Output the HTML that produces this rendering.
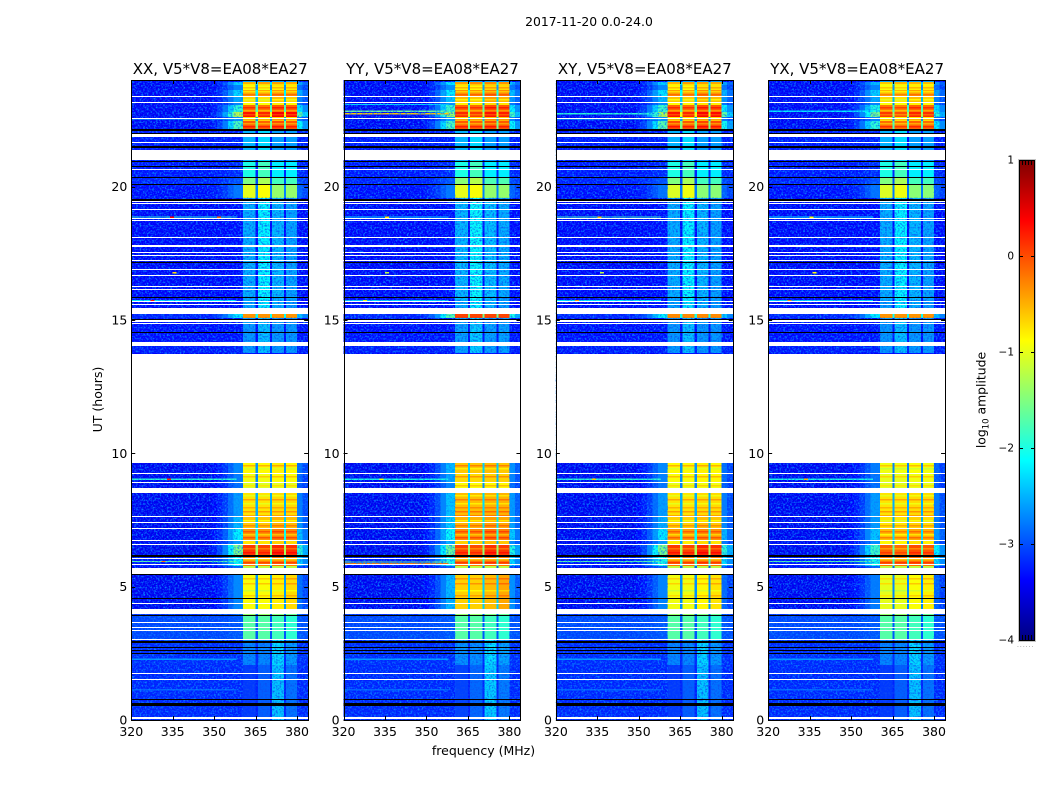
<!DOCTYPE html>
<html>
<head>
<meta charset="utf-8">
<title>2017-11-20 0.0-24.0</title>
<style>
html,body{margin:0;padding:0;background:#fff;}
svg{display:block;}
text{font-family:"DejaVu Sans","Liberation Sans",sans-serif;fill:#000;}
</style>
</head>
<body>
<svg id="figure" width="1050" height="800" viewBox="0 0 1050 800" xmlns="http://www.w3.org/2000/svg">
  <defs>
    <filter id="speckle" x="0" y="0" width="100%" height="100%" color-interpolation-filters="sRGB">
      <feTurbulence type="fractalNoise" baseFrequency="0.55" numOctaves="2" seed="7"/>
      <feColorMatrix type="matrix" values="0 0 0 0 0.03  0 0 0 0 0.5  0 0 0 0 1  3 0 0 0 -1.35"/>
    </filter>
    <filter id="speckle-band" x="0" y="0" width="100%" height="100%" color-interpolation-filters="sRGB">
      <feTurbulence type="fractalNoise" baseFrequency="0.55" numOctaves="2" seed="11"/>
      <feColorMatrix type="matrix" values="0 0 0 0 0.05  0 0 0 0 0.3  0 0 0 0 0.95  2.4 0 0 0 -1.05"/>
    </filter>
    <linearGradient id="colorbar-gradient" x1="0" y1="1" x2="0" y2="0"></linearGradient>
  </defs>
  <rect x="0" y="0" width="1050" height="800" fill="#fff"/>
  <text x="589" y="26" font-size="12.4" text-anchor="middle">2017-11-20 0.0-24.0</text>
  <text x="483.5" y="755" font-size="12.5" text-anchor="middle">frequency (MHz)</text>
  <text x="102" y="399.5" font-size="12.5" text-anchor="middle" transform="rotate(-90 102 399.5)">UT (hours)</text>
  <text x="985.5" y="400" font-size="12.4" text-anchor="middle" transform="rotate(-90 985.5 400)">log<tspan font-size="8.5" dy="3">10</tspan><tspan dy="-3"> amplitude</tspan></text>
  <g id="panels"></g>
  <g id="colorbar"></g>
</svg>
<script>
// ---------- data (log10 amplitude) ----------
const panelTitles = ["XX, V5*V8=EA08*EA27", "YY, V5*V8=EA08*EA27", "XY, V5*V8=EA08*EA27", "YX, V5*V8=EA08*EA27"];
const xTickLabels = [320, 335, 350, 365, 380];
const yTickLabels = [0, 5, 10, 15, 20];
const colorbarTicks = [1, 0, -1, -2, -3, -4];

// frequency channel edges (MHz) and response of each channel group
const freqEdges = [320, 349, 351, 353, 355, 357, 360.4, 365, 365.8, 370.2, 371, 375.3, 376, 380, 382, 384];
const columnWeight = [0, 0.04, 0.1, 0.2, 0.35, 0.5, 1, 0.55, 1, 0.55, 1, 0.55, 1, 0.4, 0.25];
const columnSubBand = [-1, -1, -1, -1, -1, -1, 0, -1, 1, -1, 2, -1, 3, -1, -1];

// UT segments: upper edge (hours); each segment ends at the next edge
const segmentTops = [24, 23.93, 23.81, 23.63, 23.40, 23.18, 23.06, 22.80, 22.61, 22.46, 22.16, 21.41, 20.96, 20.33, 20.06, 19.58, 18.90, 15.75, 15.23, 15.08, 14.06, 13.76, 9.64, 9.26, 8.93, 8.55, 7.65, 7.20, 6.75, 6.56, 6.19, 5.78, 5.48, 4.13, 3.90, 3.00, 2.06];
const segmentEnd = 0;

// in-band level per segment, one array per polarisation
const levelsXX = [-2.6, -0.5, -0.9, -0.45, -0.7, -0.9, -0.15, 0.3, -0.8, -0.05, -2.5, -2.5, -2.0, -1.5, -1.0, -2.4, -2.4, -2.45, -0.35, -2.6, -2.6, -3.3, -0.85, -0.95, -1.05, -0.75, -0.6, -0.35, -0.75, 0.1, -0.25, -1.2, -0.85, -1.5, -1.8, -2.6, -2.9];
const levelsYY = [-2.6, -0.4, -0.8, -0.35, -0.55, -0.8, -0.1, 0.2, -0.7, -0.05, -2.5, -2.5, -2.0, -1.45, -1.0, -2.35, -2.35, -2.4, 0.05, -2.55, -2.55, -3.3, -0.6, -0.7, -0.9, -0.55, -0.5, -0.3, -0.65, 0.05, -0.2, -1.2, -0.6, -1.5, -1.8, -2.55, -2.85];
const levelsXY = [-2.6, -0.5, -0.85, -0.4, -0.6, -0.85, -0.1, 0.3, -0.8, 0, -2.5, -2.5, -2.0, -1.5, -1.05, -2.4, -2.4, -2.45, -0.3, -2.6, -2.6, -3.3, -0.85, -0.9, -1.0, -0.75, -0.65, -0.4, -0.8, 0.1, -0.2, -1.2, -0.9, -1.5, -1.8, -2.6, -2.9];
const levelsYX = [-2.6, -0.6, -0.9, -0.5, -0.7, -0.9, -0.2, 0.1, -0.9, -0.15, -2.5, -2.5, -2.0, -1.5, -1.05, -2.4, -2.4, -2.45, -0.35, -2.6, -2.6, -3.3, -0.95, -1.0, -1.05, -0.75, -0.75, -0.55, -0.85, -0.1, -0.2, -1.2, -0.95, -1.5, -1.8, -2.6, -2.9];

// off-band level per segment (shared)
const offBandLevels = [-3.4, -3.42, -3.42, -3.42, -3.42, -3.42, -3.42, -3.42, -3.42, -3.42, -3.3, -3.3, -3.3, -3.25, -3.35, -3.4, -3.4, -3.4, -3.25, -3.35, -3.3, -3.4, -3.45, -3.45, -3.45, -3.45, -3.45, -3.45, -3.45, -3.45, -3.3, -3.4, -3.45, -3.15, -3.05, -3.2, -3.22];

// per-segment sub-band offsets (first to fourth sub-band)
const tiltSub1 = [0, 0, 0, 0, 0, 0, 0, 0, 0, 0, 0, 0, 0, 0, 0, -0.1, -0.1, -0.1, 0, 0, 0, 0, 0, 0, 0, 0, 0, 0, 0, 0, 0, 0, -0.05, 0.1, 0.1, -0.1, -0.2];
const tiltSub2 = [0, 0.1, -0.05, 0, -0.05, 0, -0.05, -0.1, 0, -0.05, 0.2, 0.2, 0.2, 0.2, 0.1, 0.25, 0.25, 0.25, 0, 0.2, 0.2, 0, 0, 0, 0, 0, 0, 0, 0, -0.05, 0, 0, -0.05, 0.1, 0.1, -0.1, 0];
const tiltSub3 = [0, 0.1, 0.1, 0.1, 0.15, 0.1, 0.1, 0.1, 0.1, 0.05, -0.1, -0.1, -0.2, -0.3, -0.4, -0.05, -0.05, -0.05, 0, 0, 0, 0, 0.05, 0.05, 0.05, 0.05, 0.1, 0.1, 0.1, 0.1, 0.05, 0, 0.05, 0, 0, 0.3, 0.5];
const tiltSub4 = [0, 0.05, 0.1, 0.05, 0.05, 0.05, 0.05, 0.05, 0.05, 0, -0.1, -0.1, -0.2, -0.3, -0.4, -0.15, -0.15, -0.15, 0, 0, 0, 0, 0, 0.05, 0.05, 0.05, 0.05, 0.05, 0.05, 0.05, 0, 0, 0.15, -0.1, -0.1, 0, 0.1];

// thin in-band bright/dim stripes: [hour, level change]
const bandStripes = [[23.85, -0.3], [23.74, 0.3], [23.59, -0.3], [23.48, 0.25], [23.29, -0.3], [22.99, 0.3], [22.88, -0.3], [22.73, -0.3], [22.54, 0.3], [22.39, -0.35], [22.28, 0.3], [9.56, 0.35], [9.45, -0.2], [9.15, 0.35], [8.81, 0.3], [8.44, -0.25], [8.29, 0.3], [8.14, -0.25], [7.99, 0.25], [7.84, 0.35], [7.69, 0.3], [7.5, -0.3], [7.31, 0.3], [7.09, 0.3], [6.98, -0.3], [6.86, 0.3], [6.45, -0.3], [6.30, 0.2], [6.04, -0.4], [5.93, 0.3], [5.33, 0.3], [5.14, 0.3], [4.88, -0.2], [4.69, 0.25]];

// narrowband interference lines across the off-band range: [hour, level]
const rfiLinesXX = [[22.56, -2.4], [18.88, -1.9], [15.75, -2.2], [9.05, -1.9], [5.97, -1.7], [2.3, -2.6], [1.16, -2.9]];
const rfiLinesYY = [[23.1, -2.3], [22.85, -1.6], [22.76, -0.6], [22.15, -0.3], [18.88, -2.3], [15.75, -2.3], [9.05, -2.0], [5.95, -1.5], [5.88, -0.2], [2.3, -2.6], [1.16, -2.9]];
const rfiLinesXY = [[22.76, -1.9], [22.56, -2.3], [18.88, -1.8], [15.75, -2.2], [9.05, -1.9], [5.97, -1.7], [2.3, -2.6], [1.16, -2.9]];
const rfiLinesYX = [[22.85, -2.2], [18.88, -2.2], [15.75, -2.3], [9.05, -2.0], [5.97, -1.7], [2.3, -2.6], [1.16, -2.9]];

// isolated hot pixels: [hour, frequency MHz, level]
const hotSpotsXX = [[18.88, 334, 0.4], [18.88, 351, -0.1], [16.8, 335, -0.7], [15.75, 327, 0.3], [9.05, 333, 0.2], [5.97, 331, -0.2]];
const hotSpotsYY = [[18.88, 335, -0.8], [16.8, 335, -1.2], [15.75, 327, -1.0], [9.05, 333, -0.9]];
const hotSpotsXY = [[18.88, 335, -0.6], [16.8, 336, -1.2], [15.75, 327, -0.4], [9.05, 333, -0.6]];
const hotSpotsYX = [[18.88, 335, -0.9], [16.8, 336, -0.9], [15.75, 327, -0.3], [9.05, 333, -0.5]];

// flagged rows: [upper hour, lower hour]
const whiteRows = [[23.40,23.36],[23.16,23.13],[22.58,22.54],[21.99,21.86],[21.68,21.64],[21.39,21.00],[20.66,20.63],[19.46,19.43],[19.39,19.35],[19.17,19.14],[18.83,18.79],[18.74,18.70],[18.11,18.08],[17.81,17.74],[17.54,17.50],[17.45,17.41],[17.24,17.20],[16.92,16.89],[16.70,16.66],[16.29,16.25],[16.17,16.14],[15.70,15.66],[15.61,15.57],[15.45,15.23],[15.00,14.93],[14.90,14.86],[14.19,14.04],[13.74,9.64],[9.26,9.23],[8.93,8.89],[8.69,8.52],[7.64,7.60],[7.43,7.39],[7.19,7.15],[6.74,6.70],[6.60,6.56],[6.09,6.06],[5.85,5.81],[5.71,5.46],[4.39,4.35],[4.16,3.98],[3.68,3.64],[3.48,3.44],[3.39,3.35],[3.04,3.00],[1.76,1.73],[1.54,1.50],[0.11,0.08],[0.06,0.02]];
const blackRows = [[22.16,22.09],[22.03,21.99],[21.53,21.47],[20.98,20.93],[20.78,20.74],[20.36,20.33],[20.10,20.06],[19.54,19.46],[17.17,17.12],[15.86,15.83],[15.05,15.00],[14.55,14.51],[6.19,6.13],[5.46,5.42],[4.58,4.54],[3.92,3.88],[2.96,2.87],[2.73,2.69],[2.64,2.61],[2.52,2.48],[0.79,0.75],[0.64,0.53]];

// UT ranges where the band itself is faint enough to show receiver noise
const noisyBandHours = [[19.58, 15.23], [15.08, 13.76], [3.0, 0]];

const panelLevels = [levelsXX, levelsYY, levelsXY, levelsYX];
const panelRfi = [rfiLinesXX, rfiLinesYY, rfiLinesXY, rfiLinesYX];
const panelHot = [hotSpotsXX, hotSpotsYY, hotSpotsXY, hotSpotsYX];
const panelKeys = ["xx", "yy", "xy", "yx"];
const subBandTilts = [tiltSub1, tiltSub2, tiltSub3, tiltSub4];

// ---------- scales ----------
const SVGNS = "http://www.w3.org/2000/svg";
const AX_W = 176.9, AX_GAP = 35.4, AX_LEFT = 131.25, AX_TOP = 80, AX_BOTTOM = 720;
const CB_X = 1019, CB_W = 15, CB_TOP = 160, CB_BOTTOM = 640;
const xMin = 320, xMax = 384, yMin = 0, yMax = 24, cMin = -4, cMax = 1;

function panelLeft(i) { return AX_LEFT + i * (AX_W + AX_GAP); }
function xScale(i, f) { return panelLeft(i) + (f - xMin) / (xMax - xMin) * AX_W; }
function yScale(h) { return AX_BOTTOM - (h - yMin) / (yMax - yMin) * (AX_BOTTOM - AX_TOP); }
function cScale(v) { return CB_BOTTOM - (v - cMin) / (cMax - cMin) * (CB_BOTTOM - CB_TOP); }

function jet(t) {
  t = Math.max(0, Math.min(1, t));
  const r = Math.max(0, Math.min(1, 1.5 - Math.abs(4 * t - 3)));
  const g = Math.max(0, Math.min(1, 1.5 - Math.abs(4 * t - 2)));
  const b = Math.max(0, Math.min(1, 1.5 - Math.abs(4 * t - 1)));
  return "rgb(" + Math.round(r * 255) + "," + Math.round(g * 255) + "," + Math.round(b * 255) + ")";
}
function levelColor(v) { return jet((v - cMin) / (cMax - cMin)); }

function make(tag, parent) {
  const node = document.createElementNS(SVGNS, tag);
  parent.appendChild(node);
  return node;
}
function setRect(node, x, y, w, h, fill) {
  node.setAttribute("x", x.toFixed(2));
  node.setAttribute("y", y.toFixed(2));
  node.setAttribute("width", w.toFixed(2));
  node.setAttribute("height", h.toFixed(2));
  node.setAttribute("fill", fill);
  node.setAttribute("shape-rendering", "crispEdges");
}
function setRowRect(node, i, upper, lower, fill) {
  const y0 = Math.round(yScale(upper));
  const h = Math.max(1, Math.round(yScale(lower) - yScale(upper)));
  setRect(node, panelLeft(i), y0, AX_W, h, fill);
}
function setLine(node, x1, y1, x2, y2) {
  node.setAttribute("x1", x1);
  node.setAttribute("y1", y1);
  node.setAttribute("x2", x2);
  node.setAttribute("y2", y2);
  node.setAttribute("stroke", "#000");
  node.setAttribute("stroke-width", "1");
}
function setNoise(node, x0, x1, y0, y1, filterId) {
  node.setAttribute("x", x0.toFixed(2));
  node.setAttribute("y", y0.toFixed(2));
  node.setAttribute("width", (x1 - x0).toFixed(2));
  node.setAttribute("height", (y1 - y0).toFixed(2));
  node.setAttribute("filter", "url(#" + filterId + ")");
}

function cellValue(levels, s, c) {
  const off = offBandLevels[s];
  const w = columnWeight[c];
  const sb = columnSubBand[c];
  if (w === 0) return off;
  if (sb >= 0) return levels[s] + subBandTilts[sb][s];
  const gain = Math.max(0, levels[s] - off);
  return off + w * gain * gain * gain / 11.6;
}
function segmentAt(hour) {
  for (let s = segmentTops.length - 1; s >= 0; s--) {
    if (hour <= segmentTops[s] && (s === segmentTops.length - 1 ? hour >= segmentEnd : hour > segmentTops[s + 1])) return s;
  }
  return 0;
}

// ---------- panels ----------
const panelsGroup = document.getElementById("panels");
panelTitles.forEach(function (title, i) {
  const g = make("g", panelsGroup);
  
  

  segmentTops.forEach(function (top, s) {
    const bottom = s + 1 < segmentTops.length ? segmentTops[s + 1] : segmentEnd;
    for (let c = 0; c < columnWeight.length; c++) {
      const cell = make("rect", g);
      
      
      const x0 = xScale(i, freqEdges[c]);
      const x1 = xScale(i, freqEdges[c + 1]);
      setRect(cell, x0, yScale(top), x1 - x0, yScale(bottom) - yScale(top), levelColor(cellValue(panelLevels[i], s, c)));
    }
  });

  bandStripes.forEach(function (stripe) {
    const s = segmentAt(stripe[0]);
    for (let c = 0; c < columnWeight.length; c++) {
      if (columnSubBand[c] < 0) continue;
      const mark = make("rect", g);
      
      
      const x0 = xScale(i, freqEdges[c]);
      const x1 = xScale(i, freqEdges[c + 1]);
      setRect(mark, x0, yScale(stripe[0]), x1 - x0, 1.6, levelColor(cellValue(panelLevels[i], s, c) + stripe[1]));
    }
  });

  panelRfi[i].forEach(function (line) {
    const rfi = make("rect", g);
    
    
    setRect(rfi, xScale(i, xMin), yScale(line[0]), xScale(i, 358) - xScale(i, xMin), 1.2, levelColor(line[1]));
  });

  const noiseLeft = make("rect", g);
  
  
  setNoise(noiseLeft, xScale(i, xMin), xScale(i, 360.4), AX_TOP, AX_BOTTOM, "speckle");

  const noiseRight = make("rect", g);
  
  
  setNoise(noiseRight, xScale(i, 380), xScale(i, xMax), AX_TOP, AX_BOTTOM, "speckle");

  noisyBandHours.forEach(function (range) {
    const noiseBand = make("rect", g);
    
    
    setNoise(noiseBand, xScale(i, 360.4), xScale(i, 380), yScale(range[0]), yScale(range[1]), "speckle-band");
  });

  panelHot[i].forEach(function (spot) {
    const hot = make("rect", g);
    
    
    setRect(hot, xScale(i, spot[1]), yScale(spot[0]), 4, 1.4, levelColor(spot[2]));
  });

  whiteRows.forEach(function (row) {
    const gap = make("rect", g);
    
    
    setRowRect(gap, i, row[0], row[1], "#fff");
  });
  blackRows.forEach(function (row) {
    const gap = make("rect", g);
    
    
    setRowRect(gap, i, row[0], row[1], "#000");
  });

  const frameLeft = Math.round(panelLeft(i));
  const frameRight = Math.round(panelLeft(i) + AX_W);
  const frame = make("rect", g);
  
  
  frame.setAttribute("x", frameLeft + 0.5);
  frame.setAttribute("y", AX_TOP + 0.5);
  frame.setAttribute("width", frameRight - frameLeft);
  frame.setAttribute("height", AX_BOTTOM - AX_TOP);
  frame.setAttribute("fill", "none");
  frame.setAttribute("stroke", "#000");
  frame.setAttribute("stroke-width", "1");

  const titleNode = make("text", g);
  
  
  titleNode.setAttribute("x", (panelLeft(i) + AX_W / 2 + 0.5).toFixed(1));
  titleNode.setAttribute("y", "74");
  titleNode.setAttribute("font-size", "15");
  titleNode.setAttribute("text-anchor", "middle");
  titleNode.textContent = title;

  xTickLabels.forEach(function (f) {
    const px = Math.round(xScale(i, f)) + 0.5;
    const tickB = make("line", g);
    
    
    setLine(tickB, px, AX_BOTTOM, px, AX_BOTTOM - 4);
    const tickT = make("line", g);
    
    
    setLine(tickT, px, AX_TOP, px, AX_TOP + 4);
    const label = make("text", g);
    
    
    label.setAttribute("x", xScale(i, f).toFixed(1));
    label.setAttribute("y", "736");
    label.setAttribute("font-size", "12.5");
    label.setAttribute("text-anchor", "middle");
    label.textContent = f;
  });

  yTickLabels.forEach(function (h) {
    const py = Math.round(yScale(h)) + 0.5;
    const tickL = make("line", g);
    
    
    setLine(tickL, panelLeft(i), py, panelLeft(i) + 4, py);
    const tickR = make("line", g);
    
    
    setLine(tickR, panelLeft(i) + AX_W, py, panelLeft(i) + AX_W - 4, py);
    const label = make("text", g);
    
    
    label.setAttribute("x", (panelLeft(i) - 4).toFixed(1));
    label.setAttribute("y", (yScale(h) + 4.5).toFixed(1));
    label.setAttribute("font-size", "12.5");
    label.setAttribute("text-anchor", "end");
    label.textContent = h;
  });
});

// ---------- colorbar ----------
const grad = document.getElementById("colorbar-gradient");
for (let k = 0; k <= 32; k++) {
  const stop = document.createElementNS(SVGNS, "stop");
  stop.setAttribute("offset", (k / 32).toFixed(4));
  stop.setAttribute("stop-color", jet(k / 32));
  grad.appendChild(stop);
}
const cb = document.getElementById("colorbar");
const cbHalo = make("rect", cb);


cbHalo.setAttribute("x", CB_X - 0.5);
cbHalo.setAttribute("y", CB_TOP - 0.5);
cbHalo.setAttribute("width", CB_W + 2);
cbHalo.setAttribute("height", CB_BOTTOM - CB_TOP + 2);
cbHalo.setAttribute("fill", "none");
cbHalo.setAttribute("stroke", "#c4c4c4");
cbHalo.setAttribute("stroke-width", "1");

const cbFill = make("rect", cb);


cbFill.setAttribute("x", CB_X + 0.5);
cbFill.setAttribute("y", CB_TOP + 0.5);
cbFill.setAttribute("width", CB_W);
cbFill.setAttribute("height", CB_BOTTOM - CB_TOP);
cbFill.setAttribute("fill", "url(#colorbar-gradient)");
cbFill.setAttribute("stroke", "#000");
cbFill.setAttribute("stroke-width", "1");

colorbarTicks.forEach(function (v) {
  const py = Math.round(cScale(v)) + 0.5;
  const tickL = make("line", cb);
  
  
  setLine(tickL, CB_X, py, CB_X + 4, py);
  const tickR = make("line", cb);
  
  
  setLine(tickR, CB_X + CB_W + 1, py, CB_X + CB_W - 3, py);
  const label = make("text", cb);
  
  
  label.setAttribute("x", CB_X - 5);
  label.setAttribute("y", (cScale(v) + 3.5).toFixed(1));
  label.setAttribute("font-size", "10.5");
  label.setAttribute("text-anchor", "end");
  label.textContent = v < 0 ? "\u2212" + Math.abs(v) : String(v);
});

for (let m = 1; m <= 4; m++) {
  const px = CB_X + 0.5 + m * 3;
  const minorTop = make("line", cb);
  
  
  setLine(minorTop, px, CB_TOP, px, CB_TOP + 5);
  const minorBottom = make("line", cb);
  
  
  setLine(minorBottom, px, CB_BOTTOM, px, CB_BOTTOM - 5);
}

const cbDots = make("text", cb);


cbDots.setAttribute("x", CB_X - 2);
cbDots.setAttribute("y", "647");
cbDots.setAttribute("font-size", "6");
cbDots.setAttribute("letter-spacing", "1");
cbDots.setAttribute("style", "fill:#777");
cbDots.textContent = "......";
</script>
</body>
</html>
